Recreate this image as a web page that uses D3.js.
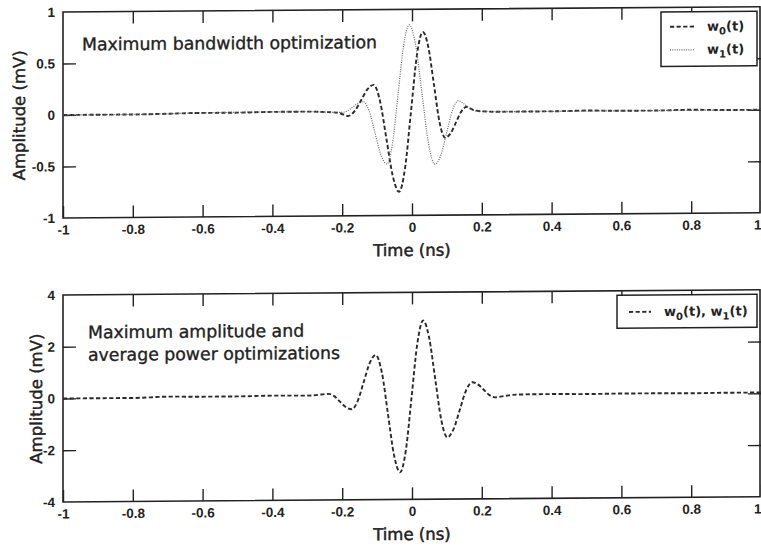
<!DOCTYPE html>
<html>
<head>
<meta charset="utf-8">
<script src="https://cdn.jsdelivr.net/npm/d3@7"></script>
<style>
  html, body { margin: 0; padding: 0; background: #fff; }
  svg { display: block; }
  .tick text { font-family: "Liberation Sans", Arial, sans-serif; font-weight: bold; font-size: 13.5px; fill: #222; }
  .tick line { stroke: #222; stroke-width: 1.4; }
</style>
</head>
<body>
<svg id="chart" width="761" height="546"></svg>
<script>
// ---- data ---------------------------------------------------------------
// time axis ticks (ns)
const timeTicks = [-1, -0.8, -0.6, -0.4, -0.2, 0, 0.2, 0.4, 0.6, 0.8, 1];
const ampTicksTop = [-1, -0.5, 0, 0.5, 1];
const ampTicksBottom = [-4, -2, 0, 2, 4];

// maximum bandwidth optimization: pulse w0(t)
const t0 = [-1, -0.9, -0.8, -0.7, -0.6, -0.5, -0.4, -0.3, -0.25, -0.21, -0.183, -0.165, -0.146, -0.128, -0.11,
  -0.092, -0.0735, -0.055, -0.037, -0.02, -0.003, 0.014, 0.031, 0.047, 0.063, 0.079, 0.095, 0.1105, 0.126,
  0.1415, 0.157, 0.175, 0.2, 0.25, 0.3, 0.4, 0.5, 0.6, 0.7, 0.8, 0.9, 1];
const w0 = [0, 0, 0, 0.005, 0.01, 0.01, 0.015, 0.015, 0.01, 0, -0.03, 0.014, 0.12, 0.226, 0.27,
  0.118, -0.25, -0.618, -0.77, -0.543, 0.005, 0.553, 0.78, 0.629, 0.265, -0.099, -0.25, -0.206, -0.1,
  0.006, 0.05, 0.02, 0.005, 0, 0, 0, 0.005, 0, 0, 0.005, 0, 0];

// maximum bandwidth optimization: pulse w1(t)
const t1 = [-1, -0.8, -0.6, -0.4, -0.3, -0.2, -0.185, -0.17, -0.155, -0.14, -0.123, -0.106, -0.089, -0.072,
  -0.056, -0.04, -0.024, -0.008, 0.0105, 0.029, 0.0475, 0.066, 0.083, 0.0995, 0.116, 0.133, 0.15, 0.165,
  0.18, 0.2, 0.3, 0.4, 0.6, 0.8, 1];
const w1 = [0, 0, 0.01, 0.015, 0.015, 0.005, 0.02, 0.055, 0.09, 0.108, 0.019, -0.196, -0.411, -0.5,
  -0.302, 0.175, 0.652, 0.85, 0.652, 0.1725, -0.306, -0.505, -0.415, -0.1975, 0.02, 0.11, 0.075, 0.035,
  0.01, 0.005, 0, 0, 0, 0, 0];

// maximum amplitude / average power optimizations: w0(t) = w1(t)
const t2 = [-1, -0.9, -0.8, -0.7, -0.6, -0.5, -0.4, -0.3, -0.28, -0.26, -0.24, -0.223, -0.2065, -0.19, -0.173,
  -0.156, -0.1385, -0.121, -0.104, -0.0865, -0.069, -0.0515, -0.034, -0.0175, -0.001, 0.0155, 0.032, 0.049,
  0.0665, 0.084, 0.101, 0.119, 0.137, 0.155, 0.173, 0.189, 0.2055, 0.222, 0.238, 0.27, 0.3, 0.4, 0.5, 0.6,
  0.7, 0.8, 0.9, 1];
const w2 = [0, 0, 0, 0.04, 0.03, 0.03, 0.05, 0.04, 0.05, 0.08, 0.1, 0.012, -0.2, -0.412, -0.5,
  -0.194, 0.545, 1.284, 1.59, 0.925, -0.68, -2.285, -2.95, -2.09, -0.02, 2.05, 2.91, 2.25,
  0.65, -0.948, -1.61, -1.3, -0.55, 0.2, 0.51, 0.424, 0.215, 0.006, -0.08, -0.02, 0.02, 0.03, 0.02, 0.03,
  0.03, 0.02, 0.03, 0.03];

// ---- drawing ------------------------------------------------------------
const svg = d3.select("#chart");
const ink = "#222";
const left = 63, right = 761;
const skew = 0.0075; // the whole figure leans slightly upward to the right
const root = svg.append("g")
  .attr("transform", `translate(0,${skew * left}) skewY(${-Math.atan(skew) * 180 / Math.PI})`);

const x = d3.scaleLinear().domain([-1, 1]).range([left, right]);
const fmt = d => String(d);

function panel(id, yDomain, top, bottom, yTicks, titleX) {
  const y = d3.scaleLinear().domain(yDomain).range([bottom, top]);
  const g = root.append("g");

  g.append("clipPath").attr("id", "clip-" + id)
    .append("rect").attr("x", left).attr("y", top).attr("width", right - left).attr("height", bottom - top);

  // ticks on all four sides, pointing inward
  const inner = yTicks.slice(1, -1);
  g.append("g").attr("transform", `translate(0,${bottom})`)
    .call(d3.axisBottom(x).tickValues(timeTicks).tickFormat(fmt).tickSize(-12).tickPadding(7))
    .call(a => a.select(".domain").remove())
    .call(a => a.selectAll(".tick text").filter(d => d === 1).attr("text-anchor", "end"));
  g.append("g").attr("transform", `translate(0,${top})`)
    .call(d3.axisTop(x).tickValues(timeTicks.slice(1, -1)).tickFormat("").tickSize(-12))
    .call(a => a.select(".domain").remove());
  g.append("g").attr("transform", `translate(${left},0)`)
    .call(d3.axisLeft(y).tickValues(yTicks).tickFormat(fmt).tickSize(0).tickPadding(8))
    .call(a => a.select(".domain").remove());
  g.append("g").attr("transform", `translate(${left},0)`)
    .call(d3.axisLeft(y).tickValues(inner).tickFormat("").tickSize(-13))
    .call(a => a.select(".domain").remove());
  g.append("g").attr("transform", `translate(${right},0)`)
    .call(d3.axisRight(y).tickValues(inner).tickFormat("").tickSize(-13))
    .call(a => a.select(".domain").remove());

  // frame
  g.append("rect").attr("x", left).attr("y", top).attr("width", right - left - 1).attr("height", bottom - top)
    .attr("fill", "none").attr("stroke", ink).attr("stroke-width", 1.6);

  // axis titles
  g.append("text").attr("x", x(0)).attr("y", bottom + 40.5)
    .attr("text-anchor", "middle")
    .style("font-family", "DejaVu Sans, sans-serif").style("font-size", "16.5px")
    .attr("fill", ink).attr("stroke", ink).attr("stroke-width", 0.5)
    .text("Time (ns)");
  g.append("text")
    .attr("transform", `translate(${titleX},${(top + bottom) / 2}) rotate(-90)`)
    .attr("text-anchor", "middle")
    .style("font-family", "DejaVu Sans, sans-serif").style("font-size", "16.5px")
    .attr("fill", ink).attr("stroke", ink).attr("stroke-width", 0.4)
    .text("Amplitude (mV)");

  return { g, y, clip: `url(#clip-${id})` };
}

function trace(p, ts, vs, dash, color, width) {
  const pts = ts.map((t, i) => [t, vs[i]]);
  p.g.append("path")
    .datum(pts)
    .attr("clip-path", p.clip)
    .attr("fill", "none")
    .attr("stroke", color)
    .attr("stroke-width", width)
    .attr("stroke-dasharray", dash)
    .attr("d", d3.line().x(d => x(d[0])).y(d => p.y(d[1])).curve(d3.curveMonotoneX));
}

function label(g, xPos, yPos, lines) {
  const t = g.append("text")
    .style("font-family", "DejaVu Sans, sans-serif").style("font-size", "17.3px")
    .attr("fill", ink).attr("stroke", ink).attr("stroke-width", 0.35);
  lines.forEach((s, i) => t.append("tspan").attr("x", xPos).attr("y", yPos + i * 22.5).text(s));
}

// legend entry text "w<sub>(t)"
function wLabel(sel, sub) {
  sel.append("tspan").text("w");
  sel.append("tspan").attr("dy", 4).style("font-size", "10px").text(sub);
  sel.append("tspan").attr("dy", -4).text("(t)");
}

const dashed = "4.2,2.4", dotted = "1,1.3";

// ---- top panel
const pTop = panel("top", [-1, 1], 12, 218, ampTicksTop, 25);
trace(pTop, t0, w0, dashed, "#2a2a2a", 1.9);
trace(pTop, t1, w1, dotted, "#666", 1.2);
label(pTop.g, 82, 50.5, ["Maximum bandwidth optimization"]);

const legTop = pTop.g.append("g");
legTop.append("rect").attr("x", 661).attr("y", 16.5).attr("width", 96).attr("height", 54.5)
  .attr("fill", "#fff").attr("stroke", ink).attr("stroke-width", 1.5);
[{ dash: dashed, col: "#2a2a2a", w: 1.9, sub: "0", yl: 31.3, yt: 35.5 },
 { dash: dotted, col: "#666", w: 1.2, sub: "1", yl: 54.5, yt: 58.5 }].forEach(e => {
  legTop.append("line").attr("x1", 670).attr("x2", 695).attr("y1", e.yl).attr("y2", e.yl)
    .attr("stroke", e.col).attr("stroke-width", e.w).attr("stroke-dasharray", e.dash);
  const t = legTop.append("text").attr("x", 707).attr("y", e.yt)
    .style("font-family", "DejaVu Sans, sans-serif").style("font-size", "13px").style("font-weight", "bold")
    .attr("fill", ink);
  wLabel(t, e.sub);
});

// ---- bottom panel
const pBot = panel("bot", [-4, 4], 295, 502, ampTicksBottom, 42);
trace(pBot, t2, w2, dashed, "#2a2a2a", 1.9);
label(pBot.g, 88, 338.5, ["Maximum amplitude and", "average power optimizations"]);

const legBot = pBot.g.append("g");
legBot.append("rect").attr("x", 617).attr("y", 299.5).attr("width", 140).attr("height", 33)
  .attr("fill", "#fff").attr("stroke", ink).attr("stroke-width", 1.5);
legBot.append("line").attr("x1", 629).attr("x2", 651).attr("y1", 316.2).attr("y2", 316.2)
  .attr("stroke", "#2a2a2a").attr("stroke-width", 1.9).attr("stroke-dasharray", dashed);
const tb = legBot.append("text").attr("x", 664).attr("y", 320.5)
  .style("font-family", "DejaVu Sans, sans-serif").style("font-size", "13px").style("font-weight", "bold")
  .attr("fill", ink);
wLabel(tb, "0");
tb.append("tspan").text(", ");
wLabel(tb, "1");
</script>
</body>
</html>
